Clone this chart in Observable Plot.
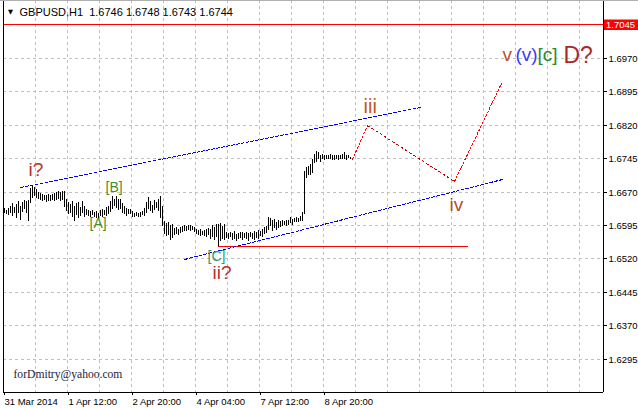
<!DOCTYPE html>
<html><head><meta charset="utf-8">
<script src="https://cdn.jsdelivr.net/npm/d3@7"></script>
<script src="https://cdn.jsdelivr.net/npm/@observablehq/plot@0.6"></script>
<style>html,body{margin:0;padding:0;background:#fff;} svg{display:block}</style>
</head><body><div id="chart"></div>
<script>
// ---- data ----
const symbolName = "GBPUSD,H1";
const lastOHLC = [1.6746, 1.6748, 1.6743, 1.6744];

const highs = [
1.6633,1.6628,1.6633,1.6637,1.6644,1.6635,1.6642,1.6649,1.6637,1.6646,
1.6651,1.6649,1.6651,1.6678,1.6682,1.6680,1.6676,1.6669,1.6667,1.6664,
1.6662,1.6662,1.6664,1.6662,1.6664,1.6667,1.6669,1.6671,1.6669,1.6671,
1.6671,1.6653,1.6646,1.6642,1.6649,1.6637,1.6644,1.6646,1.6635,1.6649,
1.6637,1.6630,1.6628,1.6626,1.6628,1.6624,1.6626,1.6621,1.6628,1.6630,
1.6628,1.6635,1.6637,1.6649,1.6660,1.6653,1.6660,1.6653,1.6653,1.6644,
1.6637,1.6633,1.6630,1.6630,1.6626,1.6621,1.6624,1.6621,1.6624,1.6626,
1.6633,1.6646,1.6658,1.6649,1.6640,1.6651,1.6646,1.6653,1.6660,1.6637,
1.6603,1.6599,1.6601,1.6594,1.6597,1.6588,1.6590,1.6585,1.6590,1.6592,
1.6594,1.6592,1.6594,1.6594,1.6592,1.6590,1.6585,1.6583,1.6585,1.6581,
1.6583,1.6585,1.6588,1.6585,1.6594,1.6590,1.6597,1.6597,1.6599,1.6592,
1.6597,1.6579,1.6576,1.6579,1.6576,1.6581,1.6574,1.6576,1.6579,1.6579,
1.6576,1.6579,1.6576,1.6579,1.6576,1.6581,1.6579,1.6583,1.6581,1.6585,
1.6590,1.6592,1.6612,1.6610,1.6606,1.6608,1.6601,1.6606,1.6603,1.6606,
1.6603,1.6606,1.6606,1.6612,1.6608,1.6610,1.6612,1.6610,1.6615,1.6624,
1.6715,1.6724,1.6728,1.6731,1.6744,1.6755,1.6760,1.6758,1.6753,1.6755,
1.6751,1.6753,1.6753,1.6755,1.6751,1.6753,1.6751,1.6753,1.6753,1.6755,
1.6758,1.6751,1.6753,1.6748];
const lows = [
1.6621,1.6619,1.6617,1.6621,1.6615,1.6621,1.6610,1.6621,1.6606,1.6624,
1.6631,1.6621,1.6604,1.6644,1.6655,1.6660,1.6655,1.6653,1.6651,1.6649,
1.6651,1.6646,1.6649,1.6649,1.6651,1.6649,1.6651,1.6653,1.6649,1.6651,
1.6635,1.6626,1.6619,1.6621,1.6612,1.6604,1.6617,1.6610,1.6615,1.6621,
1.6612,1.6617,1.6615,1.6612,1.6617,1.6612,1.6610,1.6608,1.6615,1.6612,
1.6617,1.6615,1.6619,1.6624,1.6630,1.6637,1.6633,1.6628,1.6631,1.6621,
1.6619,1.6615,1.6619,1.6619,1.6612,1.6612,1.6615,1.6612,1.6612,1.6617,
1.6615,1.6621,1.6631,1.6626,1.6621,1.6628,1.6633,1.6626,1.6610,1.6592,
1.6574,1.6570,1.6572,1.6561,1.6565,1.6572,1.6574,1.6572,1.6576,1.6579,
1.6581,1.6581,1.6583,1.6581,1.6583,1.6579,1.6574,1.6572,1.6570,1.6572,
1.6570,1.6567,1.6572,1.6563,1.6567,1.6561,1.6567,1.6547,1.6558,1.6563,
1.6561,1.6565,1.6563,1.6567,1.6561,1.6563,1.6558,1.6563,1.6565,1.6561,
1.6565,1.6563,1.6558,1.6567,1.6563,1.6561,1.6565,1.6563,1.6570,1.6567,
1.6574,1.6576,1.6583,1.6592,1.6581,1.6588,1.6583,1.6588,1.6590,1.6592,
1.6594,1.6592,1.6594,1.6599,1.6594,1.6601,1.6601,1.6601,1.6603,1.6603,
1.6619,1.6701,1.6706,1.6708,1.6712,1.6733,1.6737,1.6742,1.6737,1.6742,
1.6740,1.6744,1.6742,1.6744,1.6740,1.6740,1.6742,1.6740,1.6744,1.6742,
1.6744,1.6740,1.6746,1.6743];

// time axis in hourly slots (slot 0 = 31 Mar 2014 04:00)
const xTickT = [0, 32, 64, 96, 128, 160];
const xTickLabels = ["31 Mar 2014", "1 Apr 12:00", "2 Apr 20:00", "4 Apr 04:00", "7 Apr 12:00", "8 Apr 20:00"];
const xGridT = [16,32,48,64,80,96,112,128,144,160,176,192,208,224,240,256,272,288];
const yTicks = [1.6295,1.6370,1.6445,1.6520,1.6595,1.6670,1.6745,1.6820,1.6895,1.6970];
const hLineLevel = 1.7045;

// channel lines
const upperT = [8.5, 208.5], upperP = [1.6681, 1.6859];
const lowerT = [90.5, 249.5], lowerP = [1.6519, 1.6699];
// horizontal support
const supportT = [107.5, 232], supportP = [1.6547, 1.6547];
// forecast path
const fcT = [174.5, 182, 225.5, 249], fcP = [1.6744, 1.6820, 1.6693, 1.6914];

// wave labels
const waveText  = ["i?", "[A]", "[B]", "[C]", "ii?", "iii", "iv", "v", "(v)", "[c]", "D?"];
const waveT     = [12.5, 43, 51, 102, 104.5, 180, 223, 249.5, 256, 267, 280];
const waveP     = [1.6707, 1.6590, 1.6671, 1.6516, 1.6475, 1.6849, 1.6628, 1.6966, 1.6966, 1.6966, 1.6961];
const waveColor = ["#b8322a","#3f8f2a","#3f8f2a","#2a9a6a","#b8322a","#c0581e","#b0502a","#b8552a","#3a3aff","#2a8a2a","#a82a2a"];
const waveSize  = [19, 14, 14, 14, 19, 20, 19, 19, 19, 19, 23];

const email = "forDmitry@yahoo.com";

// ---- build ----
const bars = highs.map((h, i) => ({t: i + 0.5, high: h, low: lows[i]}));
const pts = (T, P) => T.map((t, i) => ({t, p: P[i]}));
const fcUp1 = pts(fcT.slice(0, 2), fcP.slice(0, 2));
const fcDown = pts(fcT.slice(1, 3), fcP.slice(1, 3));
const fcUp2 = pts(fcT.slice(2, 4), fcP.slice(2, 4));
const waves = waveText.map((s, i) => ({s, t: waveT[i], p: waveP[i], c: waveColor[i], f: waveSize[i]}));
const titleStr = symbolName + "\u00a0\u00a0" + lastOHLC.map(v => v.toFixed(4)).join("\u00a0");

const font = "'Liberation Sans', Arial, Helvetica, sans-serif";
const lineOpts = {x: "t", y: "p", strokeWidth: 1, shapeRendering: "crispEdges"};

const chart = Plot.plot({
  width: 638, height: 408,
  marginLeft: 3, marginRight: 35, marginTop: 0, marginBottom: 16,
  x: {domain: [0, 300], round: true, axis: null, label: null},
  y: {domain: [1.62198, 1.71000], round: true, axis: null, label: null},
  style: {fontFamily: font, fontSize: "9.5px", color: "black", background: "white"},
  marks: [
    Plot.ruleY(yTicks, {stroke: "#c0c0c0", strokeDasharray: "3,3"}),
    Plot.ruleX(xGridT, {stroke: "#c0c0c0", strokeDasharray: "3,3"}),
    Plot.ruleY([hLineLevel], {stroke: "#ff0000"}),
    Plot.line(pts(supportT, supportP), {...lineOpts, stroke: "#ff0000"}),
    Plot.ruleX(bars, {x: "t", y1: "low", y2: "high", stroke: "black"}),
    Plot.line(pts(upperT, upperP), {...lineOpts, stroke: "#0000ff", strokeDasharray: "3,2"}),
    Plot.line(pts(lowerT, lowerP), {...lineOpts, stroke: "#0000ff", strokeDasharray: "3,2"}),
    Plot.line(fcUp1, {...lineOpts, stroke: "#ff0000", strokeDasharray: "2,2"}),
    Plot.line(fcDown, {...lineOpts, stroke: "#c00000", strokeDasharray: "2,3"}),
    Plot.line(fcUp2, {...lineOpts, stroke: "#ff0000", strokeDasharray: "2,2"}),
    Plot.text(waves, {x: "t", y: "p", text: "s", fill: "c", fontSize: "f", textAnchor: "start", lineAnchor: "bottom", fontFamily: font}),
    Plot.ruleX([0], {stroke: "black"}),
    Plot.ruleX([300], {stroke: "black"}),
    Plot.ruleY([1.62198], {stroke: "black"}),
    Plot.axisY(yTicks, {anchor: "right", tickSize: 3, tickPadding: 2, tickFormat: d => d.toFixed(4), fontSize: 9.5, label: null}),
    Plot.axisX(xTickT, {anchor: "bottom", tickSize: 3, tickPadding: 3, textAnchor: "start", dx: 1, label: null,
      tickFormat: d => xTickLabels[xTickT.indexOf(d)], fontSize: 9.5}),
    Plot.text([titleStr], {frameAnchor: "top-left", dx: 16, dy: 15, lineAnchor: "bottom", textAnchor: "start", fontSize: 11, fill: "black"}),
    Plot.text(["\u25BC"], {frameAnchor: "top-left", dx: 4.5, dy: 13.5, lineAnchor: "bottom", textAnchor: "start", fontSize: 6.5, fontFamily: "DejaVu Sans", fill: "black"}),
    Plot.text([email], {frameAnchor: "bottom-left", dx: 10, dy: -15, lineAnchor: "bottom", textAnchor: "start",
      fontFamily: "'Liberation Serif', 'Times New Roman', serif", fontSize: 11.6, fill: "#1c1c3c"})
  ]
});

// red price label on the right axis for the horizontal line
const yS = chart.scale("y");
const yy = yS.apply(hLineLevel);
const svg = d3.select(chart);
svg.append("rect").attr("x", 604).attr("y", yy - 4.5).attr("width", 34).attr("height", 10.5).attr("fill", "#ff0000");
svg.append("text").attr("x", 606).attr("y", yy + 4).attr("fill", "white").attr("text-anchor", "start")
  .attr("font-family", font).attr("font-size", 9.5).text(hLineLevel.toFixed(4));
// thin window border at top
svg.append("line").attr("x1", 0).attr("x2", 638).attr("y1", 0.5).attr("y2", 0.5).attr("stroke", "#b0b0b0");

document.getElementById("chart").appendChild(chart);
</script>
</body></html>
